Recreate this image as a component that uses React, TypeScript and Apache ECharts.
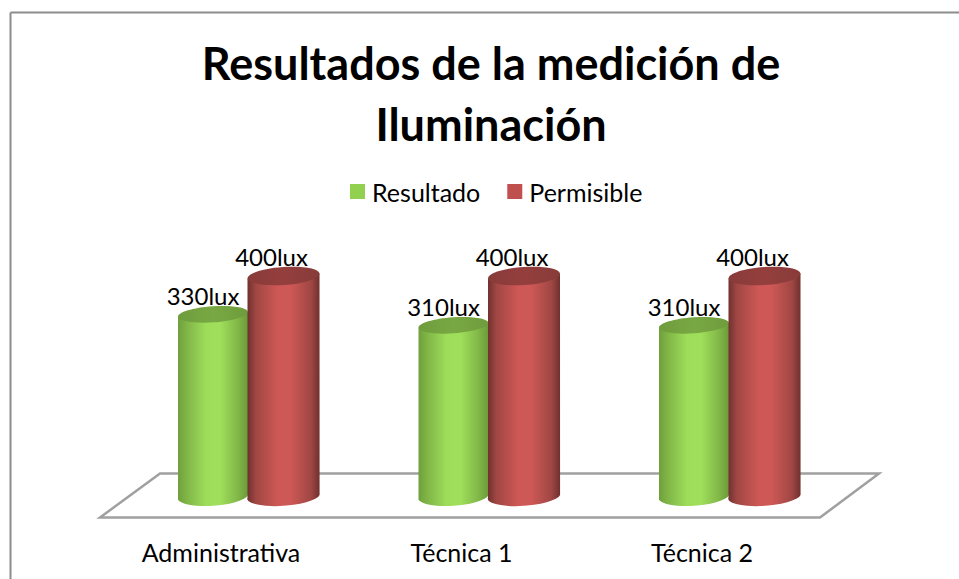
import React, { useEffect, useRef } from "react";
import * as echarts from "echarts";

const titleText = "Resultados de la medición de\nIluminación";
const categories = ["Administrativa", "Técnica 1", "Técnica 2"];
const resultado = [330, 310, 310];
const permisible = [400, 400, 400];
const unit = "lux";

const FONT = "Lato, Carlito, Calibri, sans-serif";
const DEPTH_X = 27;
const TILT = 0.07;

function gradient(stops: [number, string][]) {
  return new echarts.graphic.LinearGradient(0, 0, 1, 0, stops.map(([offset, color]) => ({ offset, color })));
}

function cylinder(cfg: {
  offset: number; rx: number; ry: number; labelDx: number; labelDy: number; side: [number, string][]; top: [number, string][];
}) {
  return (params: any, api: any) => {
    const i = api.value(0);
    const v = api.value(1);
    const [cx0, yTop] = api.coord([i, v]);
    const [, yBot] = api.coord([i, 0]);
    const cx = cx0 + DEPTH_X + cfg.offset;
    const x0 = cx - cfg.rx;
    const x1 = cx + cfg.rx;
    const ryB = 9.5;
    const dy = cfg.rx * TILT;
    const deg = (-TILT * 180) / Math.PI;
    return {
      type: "group",
      children: [
        {
          type: "path",
          shape: {
            pathData: `M ${x0} ${yTop + dy} L ${x0} ${yBot + dy} A ${cfg.rx} ${ryB} ${deg} 0 0 ${x1} ${yBot - dy} L ${x1} ${yTop - dy} Z`,
          },
          style: { fill: gradient(cfg.side) },
        },
        {
          type: "ellipse",
          x: cx,
          y: yTop,
          rotation: TILT,
          shape: { cx: 0, cy: 0, rx: cfg.rx, ry: cfg.ry },
          style: { fill: gradient(cfg.top) },
        },
        {
          type: "text",
          x: cx + cfg.labelDx,
          y: yTop - cfg.labelDy,
          style: {
            text: `${v}${unit}`, fill: "#000", font: `24px ${FONT}`, align: "center", verticalAlign: "middle",
          },
        },
      ],
    };
  };
}

export default function App() {
  const ref = useRef<HTMLDivElement>(null);
  useEffect(() => {
    const chart = echarts.init(ref.current!, undefined, { renderer: "svg" });
    chart.setOption({
      animation: false,
      backgroundColor: "#fff",
      title: {
        text: titleText,
        left: 486,
        top: 27,
        textAlign: "center",
        textStyle: { fontFamily: FONT, fontSize: 45, fontWeight: "bold", color: "#000", lineHeight: 61 },
      },
      legend: {
        left: 345,
        top: 174,
        itemWidth: 15,
        itemHeight: 15,
        itemGap: 27,
        icon: "rect",
        textStyle: { fontFamily: FONT, fontSize: 25, color: "#000", padding: [0, 0, 0, 2] },
        data: ["Resultado", "Permisible"],
      },
      grid: { left: 100.75, width: 721.5, top: 276, bottom: 84 },
      xAxis: {
        type: "category",
        data: categories,
        axisLine: { show: false },
        axisTick: { show: false },
        axisLabel: { margin: 44, fontFamily: FONT, fontSize: 25, color: "#000" },
      },
      yAxis: { type: "value", min: 0, max: 400, show: false, splitLine: { show: false } },
      graphic: [
        { type: "line", z: 0, shape: { x1: 10.5, y1: 12.5, x2: 959, y2: 12.5 }, style: { stroke: "#8c8c8c", lineWidth: 2 } },
        { type: "line", z: 0, shape: { x1: 10.5, y1: 12.5, x2: 10.5, y2: 579 }, style: { stroke: "#8c8c8c", lineWidth: 2 } },
        {
          type: "polygon",
          z: 0,
          shape: { points: [[100, 517.5], [160, 473.5], [879, 473.5], [820, 517.5]] },
          style: { fill: "none", stroke: "#a0a0a0", lineWidth: 2.5 },
        },
      ],
      series: [
        {
          name: "Resultado",
          type: "custom",
          z: 3,
          itemStyle: { color: "#92d050" },
          data: resultado.map((v, i) => [i, v]),
          encode: { x: 0, y: 1 },
          clip: false,
          renderItem: cylinder({
            offset: -35, rx: 35, ry: 8, labelDx: -10, labelDy: 19,
            side: [[0, "#6f9f3c"], [0.12, "#7fb446"], [0.4, "#9ddd5a"], [0.6, "#9fdf5b"], [0.85, "#82b848"], [1, "#6b9a39"]],
            top: [[0, "#6f9c3d"], [0.5, "#78a843"], [1, "#6f9c3d"]],
          }),
        },
        {
          name: "Permisible",
          type: "custom",
          z: 4,
          itemStyle: { color: "#c0504d" },
          data: permisible.map((v, i) => [i, v]),
          encode: { x: 0, y: 1 },
          clip: false,
          renderItem: cylinder({
            offset: 35.5, rx: 36, ry: 9, labelDx: -12, labelDy: 20,
            side: [[0, "#6f302e"], [0.12, "#a04744"], [0.42, "#cd5855"], [0.6, "#cd5855"], [0.88, "#a04744"], [1, "#6f302e"]],
            top: [[0, "#883b39"], [0.5, "#943f3e"], [1, "#883b39"]],
          }),
        },
      ],
    });
    return () => chart.dispose();
  }, []);
  return <div ref={ref} style={{ position: "fixed", left: 0, top: 0, width: 959, height: 579 }} />;
}
